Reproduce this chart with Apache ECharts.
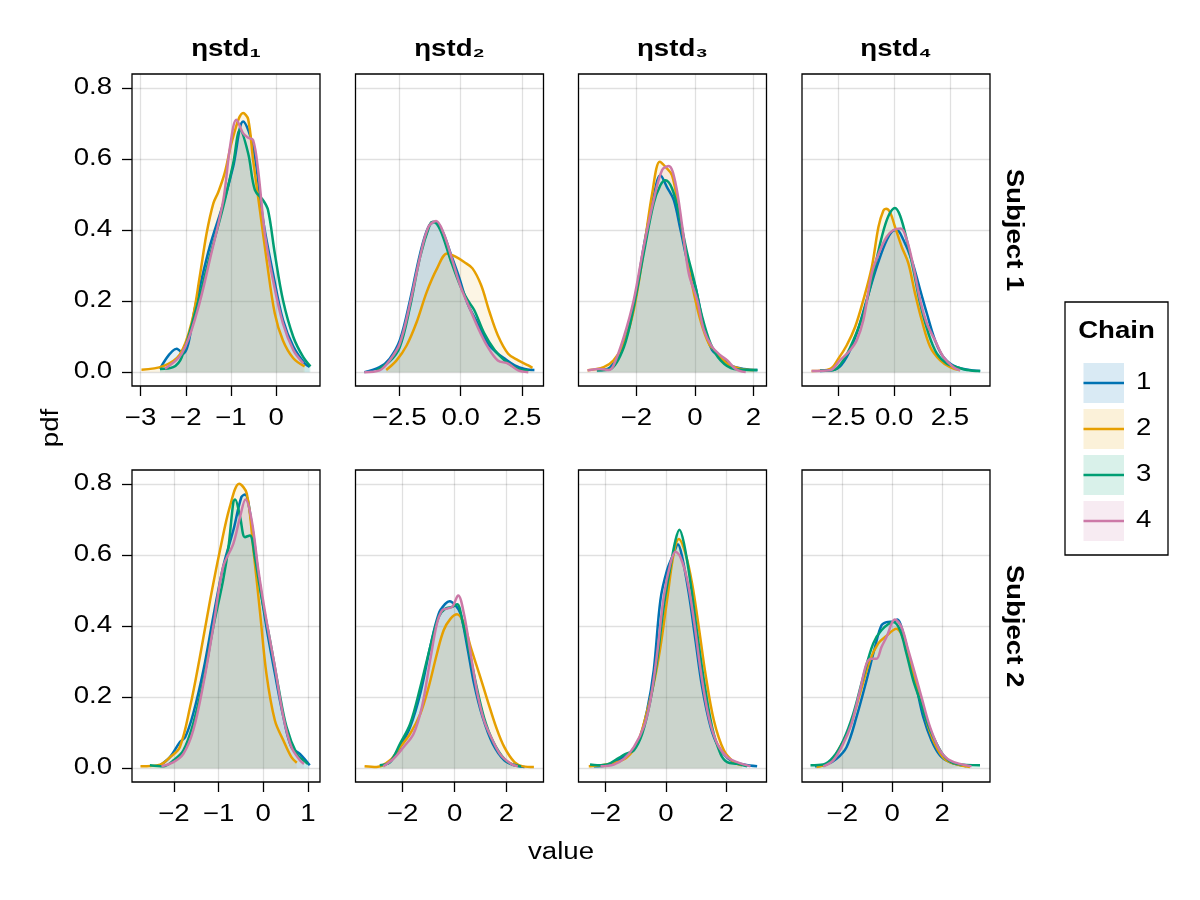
<!DOCTYPE html>
<html><head><meta charset="utf-8">
<script src="https://cdn.jsdelivr.net/npm/echarts@6/dist/echarts.min.js"></script>
<style>html,body{margin:0;padding:0;background:#fff}#c{width:1200px;height:900px}</style>
</head><body><div id="c"></div><script>
// ---------- data ----------
const chains = ['1', '2', '3', '4'];
const colors = ['#0072B2', '#E69F00', '#009E73', '#CC79A7'];
const columnTitles = ['ηstd₁', 'ηstd₂', 'ηstd₃', 'ηstd₄'];
const rowTitles = ['Subject 1', 'Subject 2'];
const yTicks = [0, 0.2, 0.4, 0.6, 0.8];
const xTicks = [
  [-3, -2, -1, 0], [-2.5, 0, 2.5], [-2, 0, 2], [-2.5, 0, 2.5],
  [-2, -1, 0, 1], [-2, 0, 2], [-2, 0, 2], [-2, 0, 2]
];
const xTickDecimals = [0, 1, 0, 1, 0, 0, 0, 0];
const xLimits = [
  [-3.19, 0.97], [-4.28, 3.37], [-3.98, 2.45], [-4.13, 4.3],
  [-2.94, 1.27], [-3.82, 3.43], [-2.89, 3.33], [-3.61, 3.91]
];
const yLimits = [-0.039, 0.839];

// Subject 1, ηstd1
const s1e1c1 = [[-2.57,0.009],[-2.2,0.066],[-2.06,0.052],[-1.76,0.203],[-1.47,0.353],[-1.17,0.475],[-0.95,0.579],[-0.73,0.705],[-0.51,0.635],[-0.29,0.428],[-0.07,0.278],[0.15,0.147],[0.38,0.072],[0.63,0.025],[0.74,0.015]];
const s1e1c2 = [[-2.98,0.007],[-2.5,0.017],[-2.13,0.05],[-1.87,0.14],[-1.69,0.27],[-1.54,0.39],[-1.39,0.475],[-1.28,0.507],[-1.14,0.56],[-0.95,0.663],[-0.73,0.729],[-0.62,0.712],[-0.51,0.597],[-0.36,0.456],[-0.21,0.315],[-0.03,0.165],[0.15,0.089],[0.38,0.039],[0.63,0.016]];
const s1e1c3 = [[-2.57,0.009],[-2.28,0.014],[-2.09,0.042],[-1.76,0.183],[-1.47,0.325],[-1.17,0.466],[-0.95,0.588],[-0.8,0.682],[-0.62,0.616],[-0.47,0.512],[-0.29,0.484],[-0.18,0.456],[-0.03,0.334],[0.15,0.203],[0.38,0.099],[0.6,0.042],[0.76,0.016]];
const s1e1c4 = [[-2.46,0.01],[-2.09,0.052],[-1.76,0.165],[-1.47,0.315],[-1.17,0.484],[-1.02,0.635],[-0.88,0.71],[-0.73,0.672],[-0.62,0.66],[-0.51,0.653],[-0.4,0.569],[-0.25,0.39],[-0.07,0.259],[0.15,0.137],[0.38,0.062],[0.6,0.025]];
// Subject 1, ηstd2
const s1e2c1 = [[-3.92,0.0],[-3.3,0.014],[-2.89,0.038],[-2.48,0.089],[-2.06,0.203],[-1.65,0.334],[-1.31,0.409],[-1.03,0.423],[-0.76,0.4],[-0.41,0.334],[-0.07,0.268],[0.28,0.193],[0.69,0.137],[1.1,0.081],[1.51,0.052],[1.79,0.038],[2.2,0.019],[2.61,0.009],[3.0,0.006]];
const s1e2c2 = [[-3.03,0.006],[-2.61,0.033],[-2.2,0.075],[-1.79,0.141],[-1.38,0.226],[-0.96,0.292],[-0.55,0.334],[-0.21,0.325],[0.14,0.31],[0.48,0.292],[0.83,0.245],[1.17,0.17],[1.51,0.104],[1.93,0.052],[2.34,0.033],[2.75,0.019],[2.92,0.012]];
const s1e2c3 = [[-3.44,0.005],[-2.89,0.03],[-2.48,0.07],[-2.06,0.184],[-1.65,0.325],[-1.24,0.418],[-1.13,0.423],[-0.83,0.4],[-0.41,0.315],[0,0.24],[0.28,0.203],[0.55,0.175],[0.96,0.109],[1.38,0.062],[1.79,0.033],[2.34,0.009],[2.75,0.005]];
const s1e2c4 = [[-3.92,0.0],[-3.3,0.005],[-2.89,0.033],[-2.48,0.08],[-2.06,0.193],[-1.65,0.325],[-1.31,0.409],[-1.0,0.425],[-0.69,0.39],[-0.34,0.315],[0,0.24],[0.34,0.184],[0.69,0.127],[1.1,0.071],[1.51,0.033],[1.93,0.024],[2.34,0.005],[2.75,0.0]];
// Subject 1, ηstd3
const s1e3c1 = [[-3.35,0.005],[-2.89,0.014],[-2.43,0.08],[-2.09,0.184],[-1.75,0.353],[-1.41,0.494],[-1.18,0.554],[-0.95,0.52],[-0.72,0.484],[-0.49,0.4],[-0.21,0.296],[0.02,0.24],[0.31,0.127],[0.59,0.062],[0.88,0.042],[1.22,0.019],[1.68,0.009],[2.14,0.006]];
const s1e3c2 = [[-3.67,0.005],[-3.12,0.014],[-2.78,0.033],[-2.43,0.08],[-2.09,0.175],[-1.75,0.343],[-1.46,0.503],[-1.2,0.592],[-1.01,0.578],[-0.78,0.554],[-0.55,0.456],[-0.26,0.315],[-0.03,0.221],[0.19,0.146],[0.48,0.08],[0.77,0.052],[1.11,0.024],[1.57,0.009],[2.02,0.006]];
const s1e3c3 = [[-3.35,0.005],[-2.89,0.009],[-2.43,0.07],[-2.09,0.184],[-1.75,0.334],[-1.41,0.475],[-1.18,0.526],[-1.01,0.54],[-0.78,0.517],[-0.55,0.447],[-0.26,0.334],[-0.03,0.259],[0.25,0.156],[0.54,0.08],[0.88,0.033],[1.34,0.009],[2.14,0.006]];
const s1e3c4 = [[-3.67,0.005],[-3.23,0.009],[-2.95,0.006],[-2.78,0.019],[-2.43,0.099],[-2.09,0.203],[-1.75,0.353],[-1.41,0.484],[-1.12,0.569],[-0.89,0.58],[-0.66,0.531],[-0.43,0.409],[-0.21,0.278],[0.08,0.203],[0.31,0.118],[0.59,0.071],[0.88,0.047],[1.11,0.033],[1.39,0.009],[1.74,0.0]];
// Subject 1, ηstd4
const s1e4c1 = [[-3.32,0.003],[-2.57,0.009],[-2.13,0.042],[-1.68,0.109],[-1.23,0.203],[-0.78,0.296],[-0.4,0.362],[-0.1,0.395],[0.12,0.4],[0.42,0.372],[0.79,0.315],[1.17,0.231],[1.47,0.165],[1.84,0.089],[2.22,0.042],[2.81,0.014],[3.86,0.003]];
const s1e4c2 = [[-3.7,0.003],[-2.87,0.009],[-2.5,0.038],[-2.13,0.075],[-1.75,0.127],[-1.38,0.203],[-1.0,0.296],[-0.7,0.409],[-0.48,0.455],[-0.36,0.46],[-0.18,0.45],[0.04,0.409],[0.34,0.353],[0.64,0.306],[0.94,0.221],[1.24,0.146],[1.62,0.071],[2.07,0.033],[2.51,0.014],[2.96,0.005]];
const s1e4c3 = [[-3.32,0.005],[-2.72,0.006],[-2.28,0.033],[-1.83,0.089],[-1.38,0.165],[-0.93,0.278],[-0.55,0.381],[-0.25,0.44],[0.04,0.462],[0.27,0.44],[0.57,0.372],[0.87,0.287],[1.17,0.193],[1.54,0.109],[1.92,0.052],[2.37,0.024],[2.81,0.014],[3.26,0.006],[3.86,0.003]];
const s1e4c4 = [[-3.7,0.003],[-2.87,0.005],[-2.43,0.033],[-1.98,0.061],[-1.68,0.089],[-1.38,0.146],[-1.0,0.278],[-0.63,0.343],[-0.33,0.381],[-0.03,0.4],[0.3,0.404],[0.57,0.372],[0.87,0.296],[1.17,0.203],[1.47,0.137],[1.84,0.089],[2.22,0.042],[2.66,0.014],[2.96,0.005]];
// Subject 2, ηstd1
const s2e1c1 = [[-2.31,0.008],[-2.09,0.031],[-1.87,0.073],[-1.75,0.087],[-1.57,0.153],[-1.34,0.276],[-1.12,0.426],[-0.9,0.566],[-0.67,0.67],[-0.49,0.763],[-0.41,0.77],[-0.26,0.688],[-0.11,0.547],[0.07,0.397],[0.26,0.266],[0.45,0.144],[0.63,0.059],[0.82,0.04],[1.04,0.008]];
const s2e1c2 = [[-2.75,0.005],[-2.31,0.01],[-2.09,0.031],[-1.87,0.059],[-1.64,0.172],[-1.42,0.313],[-1.19,0.473],[-0.97,0.613],[-0.75,0.735],[-0.54,0.8],[-0.37,0.773],[-0.22,0.613],[-0.07,0.435],[0.07,0.266],[0.26,0.134],[0.45,0.078],[0.63,0.031],[0.75,0.015]];
const s2e1c3 = [[-2.54,0.008],[-2.24,0.005],[-2.01,0.022],[-1.79,0.05],[-1.57,0.125],[-1.34,0.247],[-1.12,0.397],[-0.9,0.529],[-0.78,0.622],[-0.67,0.749],[-0.63,0.756],[-0.52,0.707],[-0.41,0.65],[-0.3,0.655],[-0.19,0.594],[-0.04,0.482],[0.15,0.36],[0.34,0.228],[0.52,0.116],[0.75,0.04],[0.9,0.022],[1.0,0.012]];
const s2e1c4 = [[-2.28,0.005],[-2.01,0.017],[-1.79,0.04],[-1.57,0.106],[-1.34,0.238],[-1.12,0.397],[-0.9,0.566],[-0.67,0.632],[-0.52,0.707],[-0.4,0.756],[-0.26,0.698],[-0.11,0.557],[0.07,0.416],[0.26,0.285],[0.45,0.144],[0.63,0.059],[0.82,0.022],[0.91,0.012]];
// Subject 2, ηstd2
const s2e2c1 = [[-2.88,0.008],[-2.49,0.017],[-2.1,0.059],[-1.71,0.116],[-1.32,0.21],[-0.94,0.341],[-0.61,0.435],[-0.35,0.463],[-0.19,0.47],[0.04,0.458],[0.23,0.435],[0.49,0.341],[0.75,0.238],[1.08,0.144],[1.47,0.069],[1.92,0.022],[2.31,0.008],[2.7,0.003]];
const s2e2c2 = [[-3.47,0.005],[-3.01,0.003],[-2.49,0.022],[-2.1,0.059],[-1.71,0.097],[-1.32,0.153],[-1.0,0.228],[-0.68,0.322],[-0.42,0.388],[-0.16,0.42],[0.1,0.433],[0.36,0.407],[0.62,0.341],[0.95,0.266],[1.27,0.191],[1.6,0.116],[1.92,0.059],[2.31,0.017],[2.64,0.005],[3.06,0.003]];
const s2e2c3 = [[-2.88,0.008],[-2.49,0.017],[-2.1,0.069],[-1.71,0.125],[-1.32,0.228],[-0.94,0.341],[-0.61,0.426],[-0.35,0.449],[-0.09,0.454],[0.1,0.461],[0.3,0.416],[0.56,0.332],[0.88,0.219],[1.21,0.125],[1.6,0.059],[2.05,0.017],[2.57,0.005]];
const s2e2c4 = [[-2.75,0.005],[-2.36,0.026],[-1.97,0.059],[-1.58,0.097],[-1.26,0.172],[-0.94,0.304],[-0.68,0.407],[-0.48,0.444],[-0.29,0.449],[-0.09,0.454],[0.14,0.486],[0.36,0.435],[0.62,0.322],[0.88,0.21],[1.14,0.134],[1.47,0.078],[1.79,0.036],[2.18,0.012],[2.44,0.005]];
// Subject 2, ηstd3
const s2e3c1 = [[-2.38,0.005],[-1.94,0.008],[-1.5,0.026],[-1.17,0.045],[-0.89,0.078],[-0.62,0.163],[-0.4,0.276],[-0.18,0.473],[0.04,0.557],[0.26,0.604],[0.4,0.63],[0.54,0.594],[0.76,0.491],[0.98,0.36],[1.2,0.228],[1.48,0.116],[1.75,0.059],[2.14,0.022],[2.58,0.01],[3.02,0.005]];
const s2e3c2 = [[-2.55,0.005],[-2.16,0.008],[-1.61,0.017],[-1.28,0.031],[-0.95,0.069],[-0.67,0.144],[-0.4,0.238],[-0.18,0.341],[0.04,0.473],[0.26,0.604],[0.43,0.645],[0.65,0.604],[0.87,0.519],[1.09,0.397],[1.31,0.266],[1.59,0.134],[1.92,0.05],[2.25,0.017],[2.52,0.008]];
const s2e3c3 = [[-2.51,0.01],[-2.27,0.008],[-1.94,0.01],[-1.61,0.026],[-1.33,0.04],[-1.06,0.05],[-0.78,0.097],[-0.51,0.191],[-0.29,0.304],[-0.07,0.454],[0.15,0.566],[0.32,0.642],[0.45,0.671],[0.6,0.632],[0.82,0.519],[1.04,0.378],[1.26,0.247],[1.53,0.116],[1.81,0.04],[2.03,0.017],[2.36,0.012],[2.69,0.005]];
const s2e3c4 = [[-2.16,0.005],[-1.72,0.01],[-1.39,0.026],[-1.06,0.059],[-0.73,0.116],[-0.51,0.191],[-0.29,0.322],[-0.07,0.482],[0.15,0.576],[0.32,0.609],[0.48,0.594],[0.71,0.529],[0.93,0.416],[1.15,0.276],[1.42,0.144],[1.7,0.069],[2.03,0.031],[2.36,0.017],[2.8,0.005]];
// Subject 2, ηstd4
const s2e4c1 = [[-3.09,0.005],[-2.63,0.01],[-2.23,0.026],[-1.83,0.059],[-1.43,0.144],[-1.03,0.247],[-0.69,0.341],[-0.43,0.402],[-0.23,0.411],[0.04,0.413],[0.21,0.418],[0.44,0.379],[0.71,0.304],[0.97,0.228],[1.24,0.144],[1.57,0.078],[1.91,0.036],[2.31,0.017],[2.97,0.005]];
const s2e4c2 = [[-3.03,0.003],[-2.49,0.017],[-2.09,0.059],[-1.69,0.116],[-1.29,0.21],[-0.89,0.304],[-0.56,0.351],[-0.29,0.369],[0.17,0.392],[0.51,0.351],[0.77,0.285],[1.11,0.2],[1.44,0.116],[1.77,0.059],[2.17,0.022],[3.11,0.003]];
const s2e4c3 = [[-3.27,0.008],[-2.76,0.01],[-2.36,0.031],[-1.96,0.078],[-1.56,0.153],[-1.16,0.257],[-0.76,0.351],[-0.43,0.388],[0.04,0.411],[0.31,0.388],[0.57,0.322],[0.84,0.247],[1.11,0.191],[1.37,0.134],[1.71,0.078],[2.11,0.031],[2.57,0.012],[3.51,0.008]];
const s2e4c4 = [[-2.76,0.005],[-2.36,0.022],[-1.96,0.069],[-1.63,0.125],[-1.29,0.219],[-1.03,0.294],[-0.83,0.308],[-0.63,0.308],[-0.43,0.341],[-0.23,0.369],[0.11,0.418],[0.37,0.397],[0.64,0.332],[0.91,0.266],[1.17,0.2],[1.51,0.116],[1.91,0.05],[2.31,0.022],[3.17,0.005]];

const panels = [
  [s1e1c1, s1e1c2, s1e1c3, s1e1c4], [s1e2c1, s1e2c2, s1e2c3, s1e2c4],
  [s1e3c1, s1e3c2, s1e3c3, s1e3c4], [s1e4c1, s1e4c2, s1e4c3, s1e4c4],
  [s2e1c1, s2e1c2, s2e1c3, s2e1c4], [s2e2c1, s2e2c2, s2e2c3, s2e2c4],
  [s2e3c1, s2e3c2, s2e3c3, s2e3c4], [s2e4c1, s2e4c2, s2e4c3, s2e4c4]
];

// ---------- layout / style ----------
const FONT = '"Liberation Sans", Arial, Helvetica, sans-serif';
const FS = 23;          // font size
const SX = 1.2;         // horizontal glyph stretch of the reference typeface
const colLeft = [132, 355.5, 578.5, 802];
const rowTop = [74, 470];
const PW = 188, PH = 312;
const fillAlpha = 0.15;
const gridColor = 'rgba(0,0,0,0.12)';
const LW = 2.5;

function hexA(hex, a) {
  const n = parseInt(hex.slice(1), 16);
  return `rgba(${(n >> 16) & 255},${(n >> 8) & 255},${n & 255},${a})`;
}
function fmt(v, d) {
  const s = Math.abs(v).toFixed(d);
  return (v < 0 ? '\u2212' : '') + s;
}
function txt(x, y, text, opts) {
  opts = opts || {};
  return { type: 'text', x: x, y: y, rotation: opts.rotation || 0, scaleX: SX, scaleY: 1, z: 100,
    silent: true,
    style: { text: text, font: `${opts.bold ? 'bold ' : ''}${FS}px ${FONT}`, fill: '#000',
      textAlign: opts.align || 'center', textVerticalAlign: 'middle' } };
}

const grids = [], xAxes = [], yAxes = [], series = [];
for (let p = 0; p < 8; p++) {
  const r = Math.floor(p / 4), c = p % 4;
  grids.push({ left: colLeft[c], top: rowTop[r], width: PW, height: PH, show: true,
    borderColor: '#000', borderWidth: 1.3, backgroundColor: 'transparent' });
  xAxes.push({
    type: 'value', gridIndex: p, min: xLimits[p][0], max: xLimits[p][1], position: 'bottom',
    axisLine: { show: false, onZero: false },
    axisTick: { show: true, length: 10, customValues: xTicks[p], lineStyle: { color: '#000', width: 1.3 } },
    axisLabel: { show: false, customValues: xTicks[p] },
    splitLine: { show: true, lineStyle: { color: gridColor, width: 1.3 } }
  });
  yAxes.push({
    type: 'value', gridIndex: p, min: yLimits[0], max: yLimits[1], position: 'left',
    axisLine: { show: false, onZero: false },
    axisTick: { show: c === 0, length: 10, customValues: yTicks, lineStyle: { color: '#000', width: 1.3 } },
    axisLabel: { show: false, customValues: yTicks },
    splitLine: { show: true, lineStyle: { color: gridColor, width: 1.3 } }
  });
  panels[p].forEach((data, k) => {
    series.push({
      type: 'line', name: chains[k], xAxisIndex: p, yAxisIndex: p, data: data,
      smooth: 0.35, showSymbol: false, symbol: 'none', silent: true, animation: false,
      lineStyle: { color: colors[k], width: LW },
      itemStyle: { color: colors[k] },
      areaStyle: { color: hexA(colors[k], fillAlpha), origin: 0 },
      z: 2
    });
  });
}

const chart = echarts.init(document.getElementById('c'), null, { renderer: 'canvas', width: 1200, height: 900 });
chart.setOption({
  backgroundColor: '#fff', animation: false,
  grid: grids, xAxis: xAxes, yAxis: yAxes, series: series
});

// ---------- text (tick labels placed through the axes' own scales) ----------
const graphics = [];
for (let p = 0; p < 8; p++) {
  const c = p % 4;
  xTicks[p].forEach(v => {
    const pt = chart.convertToPixel({ gridIndex: p }, [v, yLimits[0]]);
    graphics.push(txt(pt[0], pt[1] + 33, fmt(v, xTickDecimals[p])));
  });
  if (c === 0) {
    yTicks.forEach(v => {
      const pt = chart.convertToPixel({ gridIndex: p }, [xLimits[p][0], v]);
      graphics.push(txt(pt[0] - 20, pt[1], fmt(v, 1), { align: 'right' }));
    });
  }
}
columnTitles.forEach((t, c) => graphics.push(txt(colLeft[c] + PW / 2, 50, t, { bold: true })));
rowTitles.forEach((t, r) => graphics.push(txt(1013, rowTop[r] + PH / 2, t, { bold: true, rotation: -Math.PI / 2 })));
graphics.push(txt(52, 428, 'pdf', { rotation: Math.PI / 2 }));
graphics.push(txt(561, 853, 'value'));
// legend box
graphics.push({ type: 'rect', shape: { x: 1065, y: 302, width: 103, height: 253 },
  style: { fill: '#fff', stroke: '#000', lineWidth: 1.3 } });
graphics.push(txt(1116.5, 332, 'Chain', { bold: true }));
chains.forEach((name, k) => {
  const cy = 383 + k * 46;
  graphics.push({ type: 'rect', shape: { x: 1083.5, y: cy - 20, width: 40.5, height: 40 },
    style: { fill: hexA(colors[k], fillAlpha), stroke: null } });
  graphics.push({ type: 'line', shape: { x1: 1083.5, y1: cy, x2: 1124, y2: cy },
    style: { stroke: colors[k], lineWidth: LW } });
  graphics.push(txt(1136, cy, name, { align: 'left' }));
});
chart.setOption({ graphic: graphics });
</script></body></html>
